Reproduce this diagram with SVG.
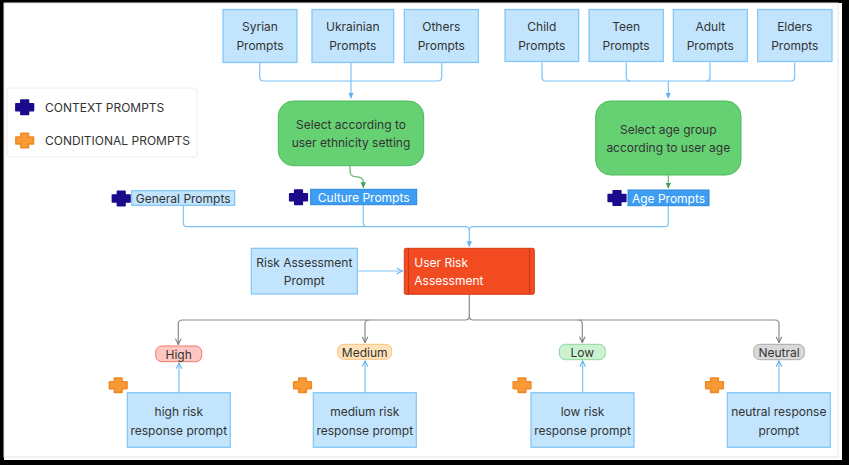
<svg xmlns="http://www.w3.org/2000/svg" width="849" height="465" viewBox="0 0 849 465">
<style>
text{font-family:Inter,"Noto Sans","Liberation Sans",sans-serif;font-size:12px;fill:#333;text-anchor:middle;dominant-baseline:central}
.box{fill:#c2e5fd;stroke:#7ec4f8;stroke-width:1.2}
.sel{fill:#3d9df3;stroke:#2b86d9;stroke-width:1}
.w{fill:#fff}
.green{fill:#66d173;stroke:#4fb85e;stroke-width:1}
.blue{fill:none;stroke:#7cc2f7;stroke-width:1.2}
.gc{fill:none;stroke:#5cb868;stroke-width:1.2}
.gray{fill:none;stroke:#8a8a8a;stroke-width:1.2}
.navy{fill:#1a0a8c;stroke:#1a0a8c;stroke-width:1.6;stroke-linejoin:round}
.orange{fill:#f89a36;stroke:#f08a26;stroke-width:1.6;stroke-linejoin:round}
</style>
<defs>
<marker id="ab" viewBox="0 0 8 8" refX="7" refY="4" markerWidth="6" markerHeight="6" orient="auto" markerUnits="userSpaceOnUse"><path d="M0,0.5 L8,4 L0,7.5 Z" fill="#5eb2f3"/></marker>
<marker id="ag" viewBox="0 0 8 8" refX="7" refY="4" markerWidth="6" markerHeight="6" orient="auto" markerUnits="userSpaceOnUse"><path d="M0,0.5 L8,4 L0,7.5 Z" fill="#3fa24d"/></marker>
<marker id="ar" viewBox="0 0 8 8" refX="7" refY="4" markerWidth="7" markerHeight="7" orient="auto" markerUnits="userSpaceOnUse"><path d="M0.5,0.8 L7,4 L0.5,7.2" fill="none" stroke="#7a7a7a" stroke-width="1.2"/></marker>
<marker id="au" viewBox="0 0 8 8" refX="7" refY="4" markerWidth="7" markerHeight="7" orient="auto" markerUnits="userSpaceOnUse"><path d="M0.5,0.8 L7,4 L0.5,7.2" fill="none" stroke="#5eb2f3" stroke-width="1.2"/></marker>
<path id="cross" d="M-3.8,-7.2 H3.8 V-3.4 H8.8 V3.4 H3.8 V7.2 H-3.8 V3.4 H-8.8 V-3.4 H-3.8 Z"/>
</defs>
<rect x="0" y="0" width="849" height="465" fill="#000"/>
<rect x="4" y="3" width="838" height="457" fill="#fff"/>
<rect x="4" y="3" width="834" height="454" fill="#fff" stroke="#e6e6e6" stroke-width="1"/>

<g id="legend">
<rect x="7" y="88" width="190" height="69" fill="#fff" stroke="#eeeeee" stroke-width="1" rx="2"/>
<use href="#cross" class="navy" x="24.7" y="107.3"/>
<text x="45" y="107.3" style="text-anchor:start">CONTEXT PROMPTS</text>
<use href="#cross" class="orange" x="24.7" y="140.5"/>
<text x="45" y="140" style="text-anchor:start">CONDITIONAL PROMPTS</text>
</g>

<g id="connectors">
<path class="blue" d="M259.7,62.5 V77 Q259.7,81 263.7,81 H437.7 Q441.7,81 441.7,77 V62.5"/>
<path class="blue" d="M351,62.5 V98" marker-end="url(#ab)"/>
<path class="blue" d="M542,62.5 V77 Q542,81 546,81 H790.7 Q794.7,81 794.7,77 V62.5"/>
<path class="blue" d="M626.3,62.5 V77 Q626.3,81 630.3,81"/>
<path class="blue" d="M710,62.5 V77 Q710,81 706,81"/>
<path class="blue" d="M668.3,81 V98" marker-end="url(#ab)"/>
<path class="gc" d="M350,166 V171 C350,181 363.3,173 363.3,182 V187.5" marker-end="url(#ag)"/>
<path class="gc" d="M668.3,175.5 V188" marker-end="url(#ag)"/>
<path class="blue" d="M183.3,205.5 V222.7 Q183.3,226.7 187.3,226.7 H465.3 Q469.3,226.7 469.3,230.7 V246.5" marker-end="url(#ab)"/>
<path class="blue" d="M363.3,205 V222.7 Q363.3,226.7 367.3,226.7"/>
<path class="blue" d="M668.3,206 V222.7 Q668.3,226.7 664.3,226.7 H473.3 Q469.3,226.7 469.3,230.7"/>
<path class="blue" d="M358,271 H402.5" marker-end="url(#au)"/>
<path class="gray" d="M469.3,294.5 V316 Q469.3,320 465.3,320 H182.3 Q178.3,320 178.3,324 V344.5" marker-end="url(#ar)"/>
<path class="gray" d="M369,320 Q365,320 365,324 V342.5" marker-end="url(#ar)"/>
<path class="gray" d="M469.3,316 Q469.3,320 473.3,320 H775 Q779,320 779,324 V342.5" marker-end="url(#ar)"/>
<path class="gray" d="M578.3,320 Q582.3,320 582.3,324 V342.5" marker-end="url(#ar)"/>
<path class="blue" d="M179,392.5 V363" marker-end="url(#au)"/>
<path class="blue" d="M365,392.5 V361" marker-end="url(#au)"/>
<path class="blue" d="M582.7,392.5 V361" marker-end="url(#au)"/>
<path class="blue" d="M779,392.5 V361" marker-end="url(#au)"/>
</g>

<g id="syrian"><rect class="box" x="223" y="9.5" width="74" height="53"/><text x="260" y="26.7">Syrian</text><text x="260" y="45">Prompts</text></g>
<g id="ukrainian"><rect class="box" x="312" y="9.5" width="81.7" height="53"/><text x="352.8" y="26.7">Ukrainian</text><text x="352.8" y="45">Prompts</text></g>
<g id="others"><rect class="box" x="404.3" y="9.5" width="74" height="53"/><text x="441.3" y="26.7">Others</text><text x="441.3" y="45">Prompts</text></g>
<g id="child"><rect class="box" x="505" y="9.5" width="73.7" height="52"/><text x="541.8" y="26.7">Child</text><text x="541.8" y="45">Prompts</text></g>
<g id="teen"><rect class="box" x="589" y="9.5" width="74.3" height="52"/><text x="626.1" y="26.7">Teen</text><text x="626.1" y="45">Prompts</text></g>
<g id="adult"><rect class="box" x="673.3" y="9.5" width="74" height="52"/><text x="710.3" y="26.7">Adult</text><text x="710.3" y="45">Prompts</text></g>
<g id="elders"><rect class="box" x="757.7" y="9.5" width="74.3" height="52"/><text x="794.8" y="26.7">Elders</text><text x="794.8" y="45">Prompts</text></g>

<g id="select-ethnicity"><rect class="green" x="278.3" y="101" width="145.4" height="64.7" rx="15"/><text x="351" y="124.3">Select according to</text><text x="351" y="142.7">user ethnicity setting</text></g>
<g id="select-age"><rect class="green" x="595.7" y="101" width="145.3" height="74" rx="15"/><text x="668.3" y="129.3">Select age group</text><text x="668.3" y="147.7">according to user age</text></g>

<g id="general-prompts"><use href="#cross" class="navy" x="121.2" y="198.5"/><rect class="box" x="131.7" y="190.7" width="103" height="14.6"/><text x="183.2" y="198">General Prompts</text></g>
<g id="culture-prompts"><use href="#cross" class="navy" x="298.5" y="197.3"/><rect class="sel" x="310.7" y="189.3" width="106" height="15.4"/><text class="w" x="363.7" y="197">Culture Prompts</text></g>
<g id="age-prompts"><use href="#cross" class="navy" x="617" y="198"/><rect class="sel" x="628" y="190" width="81" height="15.7"/><text class="w" x="668.5" y="198">Age Prompts</text></g>

<g id="risk-assessment-prompt"><rect class="box" x="251.3" y="248.3" width="106" height="45.7"/><text x="304.3" y="262.3">Risk Assessment</text><text x="304.3" y="280.7">Prompt</text></g>
<g id="user-risk-assessment"><rect x="404.3" y="248.3" width="130" height="46" fill="#f24b22" stroke="#d63a17" stroke-width="1" rx="1.5"/><line x1="408.5" y1="248.3" x2="408.5" y2="294.3" stroke="#c8361a" stroke-width="1"/><line x1="529.5" y1="248.3" x2="529.5" y2="294.3" stroke="#c8361a" stroke-width="1"/><text class="w" x="414.3" y="262.3" style="text-anchor:start">User Risk</text><text class="w" x="414.3" y="280.7" style="text-anchor:start">Assessment</text></g>

<g id="high"><rect x="155.7" y="346" width="46" height="15.7" rx="6" fill="#ffc7c2" stroke="#ef7b6c" stroke-width="1"/><text x="178.7" y="354">High</text></g>
<g id="medium"><rect x="337.7" y="344.3" width="54" height="15" rx="6" fill="#ffe2b8" stroke="#f8c27f" stroke-width="1"/><text x="364.7" y="352">Medium</text></g>
<g id="low"><rect x="559.3" y="344.3" width="46" height="15.4" rx="6" fill="#cbf2d0" stroke="#8fd69c" stroke-width="1"/><text x="582.3" y="352">Low</text></g>
<g id="neutral"><rect x="753.7" y="344.3" width="50.6" height="15.4" rx="6" fill="#d9d9d9" stroke="#ababab" stroke-width="1"/><text x="779" y="352">Neutral</text></g>

<g id="high-response"><use href="#cross" class="orange" x="118.2" y="385.2"/><rect class="box" x="127.3" y="392.7" width="103" height="54.6"/><text x="178.8" y="411.7">high risk</text><text x="178.8" y="430">response prompt</text></g>
<g id="medium-response"><use href="#cross" class="orange" x="302.5" y="385.2"/><rect class="box" x="313.3" y="392.7" width="103" height="54.6"/><text x="364.8" y="411.7">medium risk</text><text x="364.8" y="430">response prompt</text></g>
<g id="low-response"><use href="#cross" class="orange" x="522" y="385.2"/><rect class="box" x="531" y="392.7" width="103" height="54.6"/><text x="582.5" y="411.7">low risk</text><text x="582.5" y="430">response prompt</text></g>
<g id="neutral-response"><use href="#cross" class="orange" x="714.5" y="385.2"/><rect class="box" x="727.3" y="392.7" width="103" height="54.6"/><text x="778.8" y="411.7">neutral response</text><text x="778.8" y="430">prompt</text></g>
</svg>
